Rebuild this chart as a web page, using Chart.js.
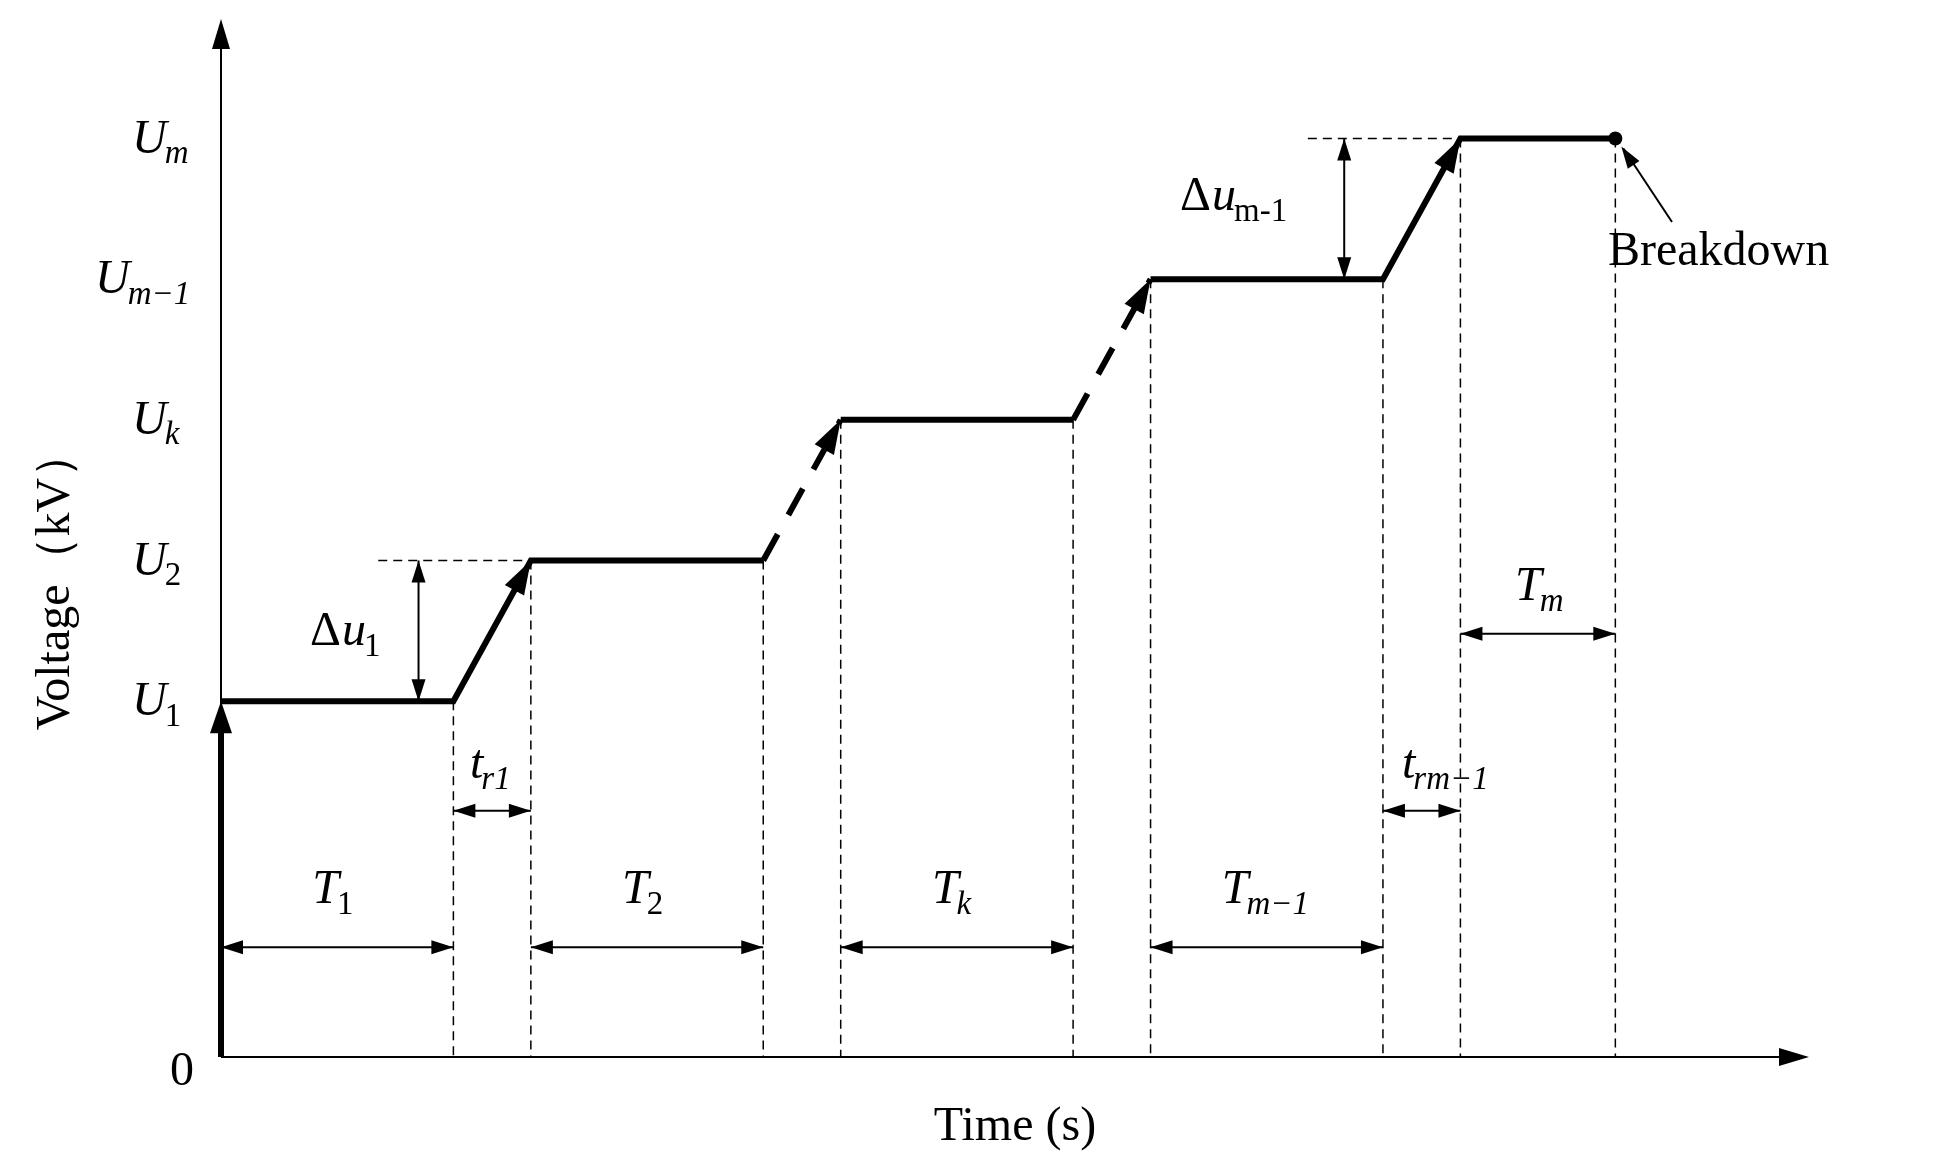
<!DOCTYPE html>
<html><head><meta charset="utf-8">
<script src="https://cdn.jsdelivr.net/npm/chart.js@4/dist/chart.umd.min.js"></script>
<style>html,body{margin:0;background:#fff}#wrap{width:1946px;height:1162px}</style>
</head><body><div id="wrap"><canvas id="c"></canvas></div>
<script>
// step times (T = 3, tr = 1) and voltage levels
const times = [0, 3, 4, 7, 8, 11, 12, 15, 16, 18];
const levels = [2.53, 3.53, 4.53, 5.53, 6.53];
const levelLabels = [["U", "1"], ["U", "2"], ["U", "k"], ["U", "m−1"], ["U", "m"]];
const holdLabels = [["T", "1"], ["T", "2"], ["T", "k"], ["T", "m−1"]];
const riseDashed = [false, true, true, false]; // U1->U2, U2->Uk, Uk->Um-1, Um-1->Um

// build staircase points
const pts = [];
levels.forEach((v, i) => {
  pts.push({ x: times[2 * i], y: v });
  pts.push({ x: times[2 * i + 1], y: v });
});

const SERIF = '"Liberation Serif", "DejaVu Serif", serif';

function arrowHead(ctx, x1, y1, x2, y2, len, w) {
  const a = Math.atan2(y2 - y1, x2 - x1);
  ctx.beginPath();
  ctx.moveTo(x2, y2);
  ctx.lineTo(x2 - len * Math.cos(a) + w * Math.sin(a), y2 - len * Math.sin(a) - w * Math.cos(a));
  ctx.lineTo(x2 - len * Math.cos(a) - w * Math.sin(a), y2 - len * Math.sin(a) + w * Math.cos(a));
  ctx.closePath();
  ctx.fill();
}
function dimArrow(ctx, x1, y1, x2, y2) {
  ctx.lineWidth = 2; ctx.setLineDash([]);
  ctx.beginPath(); ctx.moveTo(x1, y1); ctx.lineTo(x2, y2); ctx.stroke();
  arrowHead(ctx, x1, y1, x2, y2, 22, 7);
  arrowHead(ctx, x2, y2, x1, y1, 22, 7);
}
function subText(ctx, x, y, main, sub, size, mainItalic, subItalic) {
  ctx.textBaseline = 'alphabetic'; ctx.textAlign = 'left';
  ctx.font = (mainItalic ? 'italic ' : '') + size + 'px ' + SERIF;
  ctx.fillText(main, x, y);
  const w = ctx.measureText(main).width;
  ctx.font = (subItalic ? 'italic ' : '') + Math.round(size * 0.68) + 'px ' + SERIF;
  ctx.fillText(sub, x + w - 2, y + size * 0.22);
}

const drawPlugin = {
  id: 'sketch',
  afterDatasetsDraw(chart) {
    const ctx = chart.ctx, xs = chart.scales.x, ys = chart.scales.y;
    const X = v => xs.getPixelForValue(v), Y = v => ys.getPixelForValue(v);
    const ca = chart.chartArea;
    ctx.save();
    ctx.fillStyle = '#000'; ctx.strokeStyle = '#000';
    // axes
    ctx.lineWidth = 2; ctx.setLineDash([]);
    ctx.beginPath(); ctx.moveTo(X(0), Y(0)); ctx.lineTo(X(0), ca.top + 20); ctx.stroke();
    arrowHead(ctx, X(0), Y(0), X(0), ca.top, 30, 9);
    ctx.beginPath(); ctx.moveTo(X(0), Y(0)); ctx.lineTo(ca.right - 20, Y(0)); ctx.stroke();
    arrowHead(ctx, X(0), Y(0), ca.right, Y(0), 30, 9);
    // thick initial rise to U1
    ctx.lineWidth = 6;
    ctx.beginPath(); ctx.moveTo(X(0), Y(0)); ctx.lineTo(X(0), Y(levels[0]) + 25); ctx.stroke();
    arrowHead(ctx, X(0), Y(0), X(0), Y(levels[0]), 32, 11);
    // arrowheads on rises
    for (let i = 0; i < 4; i++) {
      const x1 = X(times[2 * i + 1]), y1 = Y(levels[i]), x2 = X(times[2 * i + 2]), y2 = Y(levels[i + 1]);
      arrowHead(ctx, x1, y1, x2, y2, 34, 11);
    }
    // dashed verticals
    ctx.lineWidth = 1.5; ctx.setLineDash([9, 6]);
    times.slice(1).forEach((t, k) => {
      const lv = levels[Math.floor((k + 1) / 2)];
      ctx.beginPath(); ctx.moveTo(X(t), Y(lv)); ctx.lineTo(X(t), Y(0)); ctx.stroke();
    });
    // dashed reference lines for Δu
    ctx.beginPath(); ctx.moveTo(X(2.03), Y(levels[1])); ctx.lineTo(X(4), Y(levels[1])); ctx.stroke();
    ctx.beginPath(); ctx.moveTo(X(14.03), Y(levels[4])); ctx.lineTo(X(16), Y(levels[4])); ctx.stroke();
    // dimension arrows
    for (let i = 0; i < 4; i++) dimArrow(ctx, X(times[2 * i]), Y(0.78), X(times[2 * i + 1]), Y(0.78));
    dimArrow(ctx, X(3), Y(1.75), X(4), Y(1.75));
    dimArrow(ctx, X(15), Y(1.75), X(16), Y(1.75));
    dimArrow(ctx, X(16), Y(3.01), X(18), Y(3.01));
    dimArrow(ctx, X(2.55), Y(levels[0]), X(2.55), Y(levels[1]));
    dimArrow(ctx, X(14.5), Y(levels[3]), X(14.5), Y(levels[4]));
    // breakdown dot and pointer
    ctx.beginPath(); ctx.arc(X(18), Y(levels[4]), 7, 0, 2 * Math.PI); ctx.fill();
    ctx.lineWidth = 2;
    ctx.beginPath(); ctx.moveTo(1672, 222); ctx.lineTo(X(18) + 8, Y(levels[4]) + 10); ctx.stroke();
    arrowHead(ctx, 1672, 222, X(18) + 6, Y(levels[4]) + 8, 22, 7);
    // texts
    const fs = 48;
    ctx.textBaseline = 'alphabetic';
    levels.forEach((v, i) => {
      const [m, s] = levelLabels[i];
      const x = s.length > 1 ? 95 : 132;
      subText(ctx, x, Y(v) + 14, m, s, fs, true, s !== '1' && s !== '2');
    });
    ctx.font = fs + 'px ' + SERIF; ctx.textAlign = 'left';
    ctx.fillText('0', 170, Y(0) + 28);
    holdLabels.forEach(([m, s], i) => {
      const cx = (X(times[2 * i]) + X(times[2 * i + 1])) / 2;
      subText(ctx, cx - (s.length > 1 ? 45 : 25), Y(0.78) - 44, m, s, fs, true, s.length === 1 && s !== '1' && s !== '2' ? true : s === 'm−1');
    });
    subText(ctx, 1515, 600, 'T', 'm', fs, true, true);
    subText(ctx, 470, 778, 't', 'r1', fs, true, true);
    subText(ctx, 1402, 778, 't', 'rm−1', fs, true, true);
    // Δu labels
    ctx.font = fs + 'px ' + SERIF; ctx.fillText('Δ', 310, 645);
    subText(ctx, 342, 645, 'u', '1', fs, true, false);
    ctx.font = fs + 'px ' + SERIF; ctx.fillText('Δ', 1180, 210);
    subText(ctx, 1212, 210, 'u', 'm-1', fs, true, false);
    ctx.font = fs + 'px ' + SERIF; ctx.fillText('Breakdown', 1608, 265);
    // axis titles
    ctx.textAlign = 'center';
    ctx.fillText('Time (s)', 1015, 1140);
    ctx.translate(55, 580); ctx.rotate(-Math.PI / 2);
    ctx.fillText('Voltage（kV）', 0, 14);
    ctx.restore();
  }
};

new Chart(document.getElementById('c'), {
  type: 'line',
  data: {
    datasets: [{
      data: pts,
      borderColor: '#000',
      borderWidth: 6,
      pointRadius: 0,
      tension: 0,
      segment: {
        borderDash: ctx => (ctx.p0DataIndex % 2 === 1 && riseDashed[(ctx.p0DataIndex - 1) / 2]) ? [30, 22] : undefined
      }
    }]
  },
  options: {
    responsive: true, maintainAspectRatio: false, animation: false,
    layout: { padding: { left: 221, top: 19, right: 137, bottom: 105 } },
    plugins: { legend: { display: false }, tooltip: { enabled: false } },
    scales: {
      x: { type: 'linear', min: 0, max: 20.5, display: false },
      y: { type: 'linear', min: 0, max: 7.38, display: false }
    }
  },
  plugins: [drawPlugin]
});
</script></body></html>
